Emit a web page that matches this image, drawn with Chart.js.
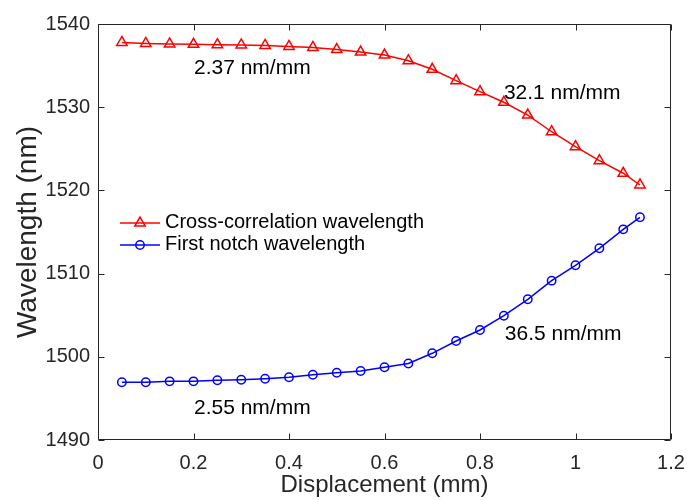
<!DOCTYPE html>
<html><head><meta charset="utf-8">
<script src="https://cdn.jsdelivr.net/npm/chart.js@4"></script>
<style>html,body{margin:0;padding:0;background:#fff}#wrap{width:687px;height:500px}</style>
</head><body><div id="wrap"><canvas id="c" width="687" height="500"></canvas></div>
<script>
const displacement = [0.05,0.10,0.15,0.20,0.25,0.30,0.35,0.40,0.45,0.50,0.55,0.60,0.65,0.70,0.75,0.80,0.85,0.90,0.95,1.00,1.05,1.10,1.135];
const crossCorrWavelength = [1537.78,1537.66,1537.60,1537.56,1537.51,1537.48,1537.42,1537.30,1537.18,1536.93,1536.63,1536.27,1535.59,1534.56,1533.19,1531.87,1530.59,1529.06,1527.05,1525.25,1523.57,1522.06,1520.65];
const firstNotchWavelength = [1496.94,1496.94,1497.05,1497.05,1497.18,1497.25,1497.37,1497.54,1497.85,1498.09,1498.29,1498.74,1499.20,1500.42,1501.90,1503.22,1504.94,1506.91,1509.15,1511.00,1513.04,1515.32,1516.77];
const seriesNames = ['Cross-correlation wavelength','First notch wavelength'];
const xTicks = [0,0.2,0.4,0.6,0.8,1,1.2];
const yTicks = [1490,1500,1510,1520,1530,1540];
const slopeLabels = ['2.37 nm/mm','32.1 nm/mm','36.5 nm/mm','2.55 nm/mm'];
const slopeLabelX = [0.201,0.85,0.852,0.201];
const slopeLabelY = [1534.7,1531.7,1502.7,1493.8];

const FAM = '"Liberation Sans", Arial, Helvetica, sans-serif';
const AXC = '#262626';

const framePlugin = {
  id: 'frame',
  afterDraw(chart) {
    const {ctx, chartArea: a, scales: {x, y}} = chart;
    ctx.save();
    ctx.strokeStyle = AXC; ctx.lineWidth = 1;
    const L = Math.round(a.left) + 0.5, R = Math.round(a.right) - 0.5, T = Math.round(a.top) + 0.5, B = Math.round(a.bottom) - 0.5;
    ctx.beginPath(); ctx.rect(L, T, R - L, B - T); ctx.stroke();
    const tl = 6;
    ctx.beginPath();
    x.ticks.forEach(t => { const px = Math.round(x.getPixelForValue(t.value)) + 0.5; ctx.moveTo(px, B); ctx.lineTo(px, B - tl); ctx.moveTo(px, T); ctx.lineTo(px, T + tl); });
    y.ticks.forEach(t => { const py = Math.round(y.getPixelForValue(t.value)) + 0.5; ctx.moveTo(L, py); ctx.lineTo(L + tl, py); ctx.moveTo(R, py); ctx.lineTo(R - tl, py); });
    ctx.stroke();
    // slope annotations
    ctx.fillStyle = '#000'; ctx.font = '21px ' + FAM; ctx.textAlign = 'left'; ctx.textBaseline = 'middle';
    slopeLabels.forEach((s, i) => ctx.fillText(s, x.getPixelForValue(slopeLabelX[i]), y.getPixelForValue(slopeLabelY[i])));
    // legend
    const rows = [223, 245];
    chart.data.datasets.forEach((ds, i) => {
      const yy = rows[i];
      ctx.strokeStyle = ds.borderColor; ctx.lineWidth = ds.borderWidth;
      ctx.beginPath(); ctx.moveTo(120, yy); ctx.lineTo(160, yy); ctx.stroke();
      ctx.lineWidth = ds.pointBorderWidth;
      ctx.beginPath();
      const r = ds.pointRadius, cx = 140;
      if (ds.pointStyle === 'triangle') {
        ctx.moveTo(cx, yy - r);
        ctx.lineTo(cx + r * Math.sin(Math.PI * 2 / 3), yy - r * Math.cos(Math.PI * 2 / 3));
        ctx.lineTo(cx - r * Math.sin(Math.PI * 2 / 3), yy - r * Math.cos(Math.PI * 2 / 3));
        ctx.closePath();
      } else {
        ctx.arc(cx, yy, r, 0, Math.PI * 2);
      }
      ctx.stroke();
      ctx.fillStyle = '#000'; ctx.font = '20px ' + FAM; ctx.textBaseline = 'middle';
      ctx.fillText(ds.label, 165, yy - 1);
    });
    ctx.restore();
  }
};

const mk = (vals) => displacement.map((d, i) => ({x: d, y: vals[i]}));

new Chart(document.getElementById('c'), {
  type: 'line',
  data: {
    datasets: [
      {label: seriesNames[0], data: mk(crossCorrWavelength), borderColor: '#ff0000', backgroundColor: 'rgba(0,0,0,0)', borderWidth: 1.5, pointStyle: 'triangle', pointRadius: 6, pointBorderWidth: 1.5, pointBackgroundColor: 'rgba(0,0,0,0)', pointBorderColor: '#ff0000', tension: 0, fill: false},
      {label: seriesNames[1], data: mk(firstNotchWavelength), borderColor: '#0000ff', backgroundColor: 'rgba(0,0,0,0)', borderWidth: 1.5, pointStyle: 'circle', pointRadius: 4.2, pointBorderWidth: 1.5, pointBackgroundColor: 'rgba(0,0,0,0)', pointBorderColor: '#0000ff', tension: 0, fill: false}
    ]
  },
  options: {
    responsive: false, animation: false, devicePixelRatio: 1,
    layout: {padding: {top: 24, right: 16, left: 0, bottom: 0}},
    plugins: {legend: {display: false}, tooltip: {enabled: false}},
    scales: {
      x: {
        type: 'linear', min: 0, max: 1.2,
        afterBuildTicks: s => { s.ticks = xTicks.map(v => ({value: v})); },
        afterFit: s => { s.height = 60; s.paddingLeft = 0; s.paddingRight = 0; },
        grid: {display: false, drawTicks: false}, border: {display: false},
        ticks: {padding: 11, color: AXC, font: {size: 20, family: FAM}, maxRotation: 0, autoSkip: false, callback: v => String(+(+v).toFixed(1))},
        title: {display: true, text: 'Displacement (mm)', color: AXC, font: {size: 24, family: FAM, lineHeight: 1}, padding: {top: 0, bottom: 3}}
      },
      y: {
        type: 'linear', min: 1490, max: 1540,
        afterBuildTicks: s => { s.ticks = yTicks.map(v => ({value: v})); },
        afterFit: s => { s.width = 98; s.paddingTop = 0; s.paddingBottom = 0; },
        grid: {display: false, drawTicks: false}, border: {display: false},
        ticks: {padding: 8, color: AXC, font: {size: 20, family: FAM}, autoSkip: false, callback: v => String(v)},
        title: {display: true, text: 'Wavelength (nm)', color: AXC, font: {size: 28, family: FAM, lineHeight: 1}, padding: {top: 14, bottom: 0}}
      }
    }
  },
  plugins: [framePlugin]
});
</script></body></html>
